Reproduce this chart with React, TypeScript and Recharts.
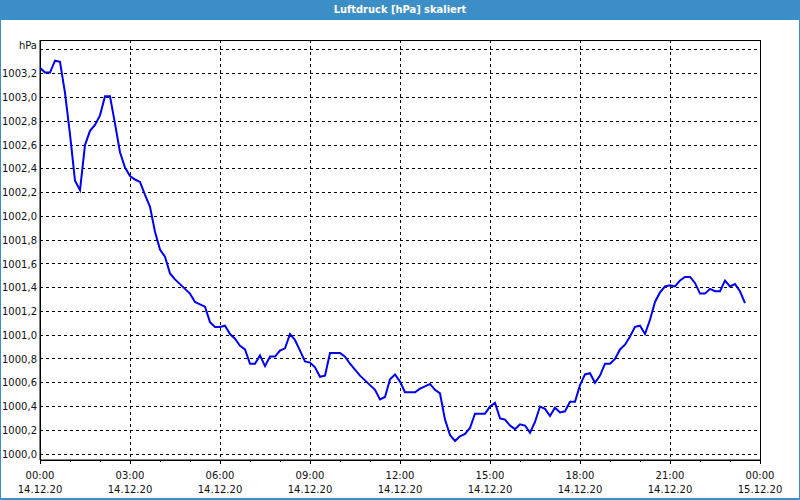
import { LineChart, Line, XAxis, YAxis, CartesianGrid, ReferenceArea } from "recharts";

// pressure readings every 10 minutes, split into 6-hour blocks
const night = [
  1003.25, 1003.21, 1003.21, 1003.31, 1003.3, 1003.04, 1002.69, 1002.3, 1002.22, 1002.6, 1002.72, 1002.77,
  1002.85, 1003.01, 1003.01, 1002.78, 1002.54, 1002.41, 1002.34, 1002.31, 1002.29, 1002.18, 1002.08, 1001.87,
  1001.72, 1001.66, 1001.52, 1001.47, 1001.43, 1001.39, 1001.35, 1001.28, 1001.26, 1001.24, 1001.11, 1001.07,
];
const morning = [
  1001.07, 1001.08, 1001.01, 1000.97, 1000.91, 1000.88, 1000.76, 1000.76, 1000.83, 1000.74, 1000.82, 1000.82,
  1000.87, 1000.89, 1001.01, 1000.96, 1000.87, 1000.78, 1000.77, 1000.73, 1000.65, 1000.66, 1000.85, 1000.85,
  1000.85, 1000.82, 1000.76, 1000.71, 1000.66, 1000.62, 1000.58, 1000.54, 1000.46, 1000.48, 1000.63, 1000.67,
];
const afternoon = [
  1000.61, 1000.52, 1000.52, 1000.52, 1000.55, 1000.57, 1000.59, 1000.54, 1000.51, 1000.29, 1000.16, 1000.11,
  1000.15, 1000.17, 1000.22, 1000.34, 1000.34, 1000.34, 1000.4, 1000.43, 1000.3, 1000.29, 1000.24, 1000.21,
  1000.25, 1000.24, 1000.18, 1000.27, 1000.4, 1000.38, 1000.32, 1000.39, 1000.35, 1000.36, 1000.44, 1000.44,
];
const evening = [
  1000.58, 1000.67, 1000.68, 1000.6, 1000.66, 1000.76, 1000.76, 1000.8, 1000.88, 1000.92, 1000.99, 1001.07,
  1001.08, 1001.01, 1001.13, 1001.28, 1001.36, 1001.41, 1001.42, 1001.41, 1001.46, 1001.49, 1001.49, 1001.44,
  1001.35, 1001.35, 1001.39, 1001.37, 1001.37, 1001.46, 1001.41, 1001.43, 1001.37, 1001.27,
];
const stepMinutes = 10;

const hourTicks = [
  0, 60, 120, 180, 240, 300, 360, 420, 480, 540, 600, 660, 720,
  780, 840, 900, 960, 1020, 1080, 1140, 1200, 1260, 1320, 1380, 1440,
];
const gridTimes = [0, 180, 360, 540, 720, 900, 1080, 1260, 1440];
const timeLabels = ["00:00", "03:00", "06:00", "09:00", "12:00", "15:00", "18:00", "21:00", "00:00"];
const dateLabels = ["14.12.20", "14.12.20", "14.12.20", "14.12.20", "14.12.20", "14.12.20", "14.12.20", "14.12.20", "15.12.20"];

const yTicks = [
  1000.0, 1000.2, 1000.4, 1000.6, 1000.8, 1001.0, 1001.2, 1001.4, 1001.6,
  1001.8, 1002.0, 1002.2, 1002.4, 1002.6, 1002.8, 1003.0, 1003.2, 1003.4,
];
const yMin = 999.95;
const yMax = 1003.484;

const pressure = [...night, ...morning, ...afternoon, ...evening];
const data = pressure.map((p, i) => ({ t: i * stepMinutes, p }));

const FONT = "'DejaVu Sans', Verdana, sans-serif";

const XTick = (props: any) => {
  const { x, y, payload } = props;
  const i = gridTimes.indexOf(payload.value);
  const major = i >= 0;
  return (
    <g>
      <line x1={x} x2={x} y1={y} y2={y + (major ? 4 : 2)} stroke="#000" shapeRendering="crispEdges" />
      {major && (
        <text x={x} y={y + 19} textAnchor="middle" fontSize={10} fontFamily={FONT} fill="#111">
          {timeLabels[i]}
        </text>
      )}
      {major && (
        <text x={x} y={y + 33} textAnchor="middle" fontSize={10} fontFamily={FONT} fill="#111">
          {dateLabels[i]}
        </text>
      )}
    </g>
  );
};

const YTick = (props: any) => {
  const { x, y, payload } = props;
  const top = payload.value === yTicks[yTicks.length - 1];
  const label = top ? "hPa" : payload.value.toFixed(1).replace(".", ",");
  return (
    <text x={x} y={top ? y - 5 : y} dy="0.36em" textAnchor="end" fontSize={10} fontFamily={FONT} fill="#111">
      {label}
    </text>
  );
};

export default function App() {
  return (
    <div
      style={{
        position: "absolute",
        left: 0,
        top: 0,
        width: 800,
        height: 500,
        background: "#fff",
        boxShadow: "inset 0 -2px 0 0 #3c8fc6, inset 0 0 0 1px #3c8fc6",
      }}
    >
      <div
        style={{
          position: "absolute",
          left: 0,
          top: 0,
          width: 800,
          height: 20,
          lineHeight: "20px",
          background: "#3c8fc6",
          color: "#fff",
          textAlign: "center",
          fontFamily: "'DejaVu Sans Condensed', 'DejaVu Sans', sans-serif",
          fontWeight: "bold",
          fontSize: 11,
        }}
      >
        Luftdruck [hPa] skaliert
      </div>
      <div style={{ position: "absolute", left: 0, top: 20 }}>
        <LineChart width={800} height={480} data={data} margin={{ top: 20, right: 40, left: 0, bottom: 0 }}>
          <CartesianGrid stroke="#000" strokeDasharray="3 3" verticalValues={gridTimes} shapeRendering="crispEdges" />
          <XAxis
            dataKey="t"
            type="number"
            domain={[0, 1440]}
            ticks={hourTicks}
            interval={0}
            height={40}
            tickSize={0}
            tickMargin={0}
            tickLine={false}
            axisLine={{ stroke: "#000" }}
            tick={<XTick />}
            allowDataOverflow
          />
          <YAxis
            type="number"
            domain={[yMin, yMax]}
            ticks={yTicks}
            interval={0}
            width={40}
            tickSize={0}
            tickMargin={3}
            tickLine={false}
            axisLine={{ stroke: "#000" }}
            tick={<YTick />}
            allowDataOverflow
          />
          <ReferenceArea
            x1={0}
            x2={1440}
            y1={yMin}
            y2={yMax}
            fill="none"
            stroke="#000"
            ifOverflow="visible"
            shapeRendering="crispEdges"
          />
          <Line
            type="linear"
            dataKey="p"
            stroke="#0000ee"
            strokeWidth={2}
            dot={false}
            isAnimationActive={false}
          />
        </LineChart>
      </div>
    </div>
  );
}
